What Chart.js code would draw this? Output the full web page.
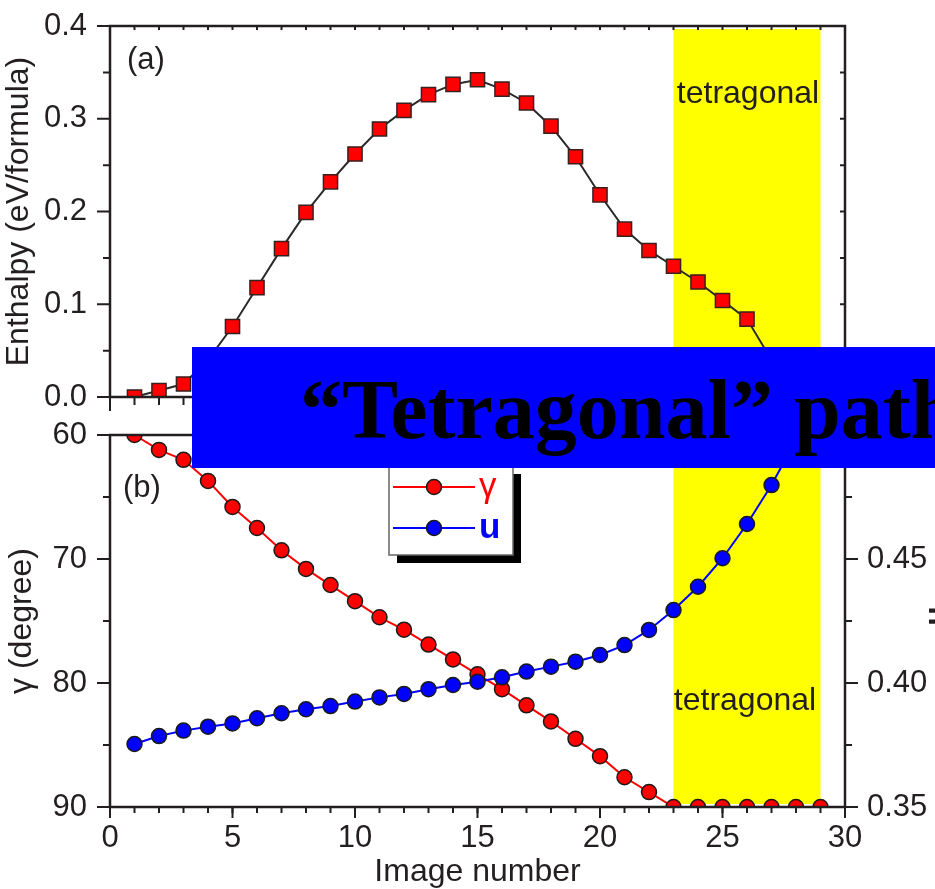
<!DOCTYPE html>
<html>
<head>
<meta charset="utf-8">
<script src="https://cdn.jsdelivr.net/npm/chart.js@4.4.1/dist/chart.umd.min.js"></script>
<style>
  body { margin: 0; background: #fff; overflow: hidden; }
  #wrap { position: relative; width: 935px; height: 889px; }
  canvas { position: absolute; left: 0; top: 0; }
  #banner { position: absolute; left: 192px; top: 347px; width: 743px; height: 121px; background: #0000ff; overflow: hidden; }
  #banner span { position: absolute; left: 108px; top: 21px; font: bold 84px/84px "Liberation Serif", "Times New Roman", serif; color: #000; white-space: nowrap; }
</style>
</head>
<body>
<div id="wrap">
  <canvas id="chartB" width="935" height="889"></canvas>
  <canvas id="chartA" width="935" height="889"></canvas>
  <div id="banner"><span>“Tetragonal” path</span></div>
</div>
<script>
"use strict";

// NEB images along the path
const imageNo = [1, 2, 3, 4, 5, 6, 7, 8, 9, 10, 11, 12, 13, 14, 15, 16, 17, 18, 19, 20, 21, 22, 23, 24, 25, 26, 27, 28, 29];
// (a) enthalpy, eV/formula
const enthalpy = [0.000, 0.007, 0.014, 0.040, 0.076, 0.118, 0.160, 0.199, 0.232, 0.262, 0.289, 0.309, 0.326, 0.337, 0.342,
  0.332, 0.317, 0.292, 0.259, 0.218, 0.181, 0.158, 0.141, 0.124, 0.104, 0.084, 0.040, 0.012, 0.000];
// (b) gamma angle, degree
const gamma = [60.0, 61.2, 62.0, 63.7, 65.8, 67.5, 69.3, 70.8, 72.1, 73.4, 74.7, 75.7, 76.9, 78.1, 79.3,
  80.5, 81.8, 83.1, 84.5, 85.9, 87.6, 88.8, 90, 90, 90, 90, 90, 90, 90];
// (b) internal parameter u
const uParam = [0.3754, 0.3786, 0.3808, 0.3824, 0.3837, 0.3858, 0.3878, 0.3894, 0.3907, 0.3925, 0.3942, 0.3956, 0.3975, 0.3992, 0.4005,
  0.4023, 0.4046, 0.4066, 0.4086, 0.4113, 0.4153, 0.4214, 0.4294, 0.4388, 0.4503, 0.4641, 0.4798, 0.498, 0.516];

// images that sit in the tetragonal region
const tetragonalBand = [23, 29];

const xMajor = [0, 5, 10, 15, 20, 25, 30];
const enthalpyMajor = [0, 0.1, 0.2, 0.3, 0.4];
const gammaMajor = [60, 70, 80, 90];
const uMajor = [0.35, 0.40, 0.45, 0.50];

const ink = '#231f20';
const sans = '"Liberation Sans", Arial, Helvetica, sans-serif';

Chart.defaults.font.family = sans;
Chart.defaults.color = ink;

const xInts = Array.from({length: 31}, (_, i) => i);
function halfSteps(major) {
  const out = [];
  for (let i = 0; i < major.length - 1; i++) out.push((major[i] + major[i + 1]) / 2);
  return out;
}
function points(ys) {
  return imageNo.map((n, i) => ({x: n, y: ys[i]}));
}

// tick marks drawn from the scale, dir = +1 (down/right) or -1 (up/left)
function tickMarks(ctx, scale, values, edge, len, dir) {
  ctx.beginPath();
  values.forEach(v => {
    const p = scale.getPixelForValue(v);
    if (scale.isHorizontal()) {
      ctx.moveTo(p, edge);
      ctx.lineTo(p, edge + dir * len);
    } else {
      ctx.moveTo(edge, p);
      ctx.lineTo(edge + dir * len, p);
    }
  });
  ctx.stroke();
}

function drawBand(chart, topGap, bottomGap) {
  const {ctx, chartArea: ca, scales: {x}} = chart;
  const x0 = x.getPixelForValue(tetragonalBand[0]);
  const x1 = x.getPixelForValue(tetragonalBand[1]);
  ctx.fillStyle = '#ffff00';
  ctx.fillRect(x0, ca.top + topGap, x1 - x0, ca.bottom - ca.top - topGap - bottomGap);
  return (x0 + x1) / 2;
}

function drawFrame(chart) {
  const {ctx, chartArea: ca} = chart;
  ctx.strokeStyle = ink;
  ctx.lineWidth = 2.5;
  ctx.strokeRect(ca.left, ca.top, ca.right - ca.left, ca.bottom - ca.top);
}

// keep the y axis width fixed and stop its label padding from pushing the plot area down
function fixedWidth(w) {
  return s => {
    s.width = w;
    s.paddingTop = 0;
    s.paddingBottom = 0;
  };
}

const panelA = {
  id: 'panelA',
  beforeDatasetsDraw(chart) {
    const {ctx, chartArea: ca} = chart;
    ctx.save();
    const mid = drawBand(chart, 3, 0);
    ctx.fillStyle = ink;
    ctx.font = '32px ' + sans;
    ctx.textAlign = 'center';
    ctx.fillText('tetragonal', mid + 1, ca.top + 77);
    ctx.restore();
  },
  afterDraw(chart) {
    const {ctx, chartArea: ca, scales: {x, y}} = chart;
    ctx.save();
    drawFrame(chart);
    ctx.lineWidth = 2;
    tickMarks(ctx, y, enthalpyMajor, ca.left, 13, -1);
    tickMarks(ctx, y, halfSteps(enthalpyMajor), ca.left, 7, -1);
    tickMarks(ctx, y, enthalpyMajor.concat(halfSteps(enthalpyMajor)), ca.right, 5, -1);
    tickMarks(ctx, x, xMajor, ca.bottom, 14, 1);
    tickMarks(ctx, x, xInts, ca.bottom, 8, 1);
    tickMarks(ctx, x, xInts, ca.top, 4, 1);
    ctx.fillStyle = ink;
    ctx.font = '31px ' + sans;
    ctx.fillText('(a)', ca.left + 17, ca.top + 43);
    ctx.restore();
  }
};

const panelB = {
  id: 'panelB',
  beforeDatasetsDraw(chart) {
    const {ctx, chartArea: ca} = chart;
    ctx.save();
    const mid = drawBand(chart, 0, 3);
    ctx.fillStyle = ink;
    ctx.font = '32px ' + sans;
    ctx.textAlign = 'center';
    ctx.fillText('tetragonal', mid - 2, ca.top + 275);
    ctx.restore();
  },
  afterDatasetsDraw(chart) {
    // boxed legend with drop shadow
    const {ctx} = chart;
    const box = {x: 389, y: 466, w: 124, h: 89, shadow: 8};
    const rows = [487, 528];
    const fonts = ['35px ' + sans, 'bold 35px ' + sans];
    const legendOrder = [1, 0];
    ctx.save();
    ctx.fillStyle = '#000';
    ctx.fillRect(box.x + box.shadow, box.y + box.shadow, box.w, box.h);
    ctx.fillStyle = '#fff';
    ctx.fillRect(box.x, box.y, box.w, box.h);
    ctx.strokeStyle = '#666';
    ctx.lineWidth = 1.5;
    ctx.strokeRect(box.x, box.y, box.w, box.h);
    legendOrder.forEach((di, r) => {
      const ds = chart.data.datasets[di];
      const yy = rows[r];
      ctx.strokeStyle = ds.borderColor;
      ctx.lineWidth = 2;
      ctx.beginPath();
      ctx.moveTo(box.x + 4, yy);
      ctx.lineTo(box.x + 86, yy);
      ctx.stroke();
      ctx.beginPath();
      ctx.arc(box.x + 45, yy, ds.pointRadius, 0, Math.PI * 2);
      ctx.fillStyle = ds.pointBackgroundColor;
      ctx.fill();
      ctx.strokeStyle = ds.pointBorderColor;
      ctx.lineWidth = ds.pointBorderWidth;
      ctx.stroke();
      ctx.fillStyle = ds.borderColor;
      ctx.font = fonts[r];
      ctx.textBaseline = 'alphabetic';
      ctx.fillText(ds.label, box.x + 90, yy + 10);
    });
    ctx.restore();
  },
  afterDraw(chart) {
    const {ctx, chartArea: ca, scales: {x, y, u}} = chart;
    ctx.save();
    drawFrame(chart);
    ctx.lineWidth = 2;
    tickMarks(ctx, y, gammaMajor, ca.left, 13, -1);
    tickMarks(ctx, y, halfSteps(gammaMajor), ca.left, 7, -1);
    tickMarks(ctx, u, uMajor, ca.right, 13, 1);
    tickMarks(ctx, u, halfSteps(uMajor), ca.right, 7, 1);
    tickMarks(ctx, x, xMajor, ca.bottom, 11, 1);
    tickMarks(ctx, x, xInts, ca.bottom, 6, 1);
    ctx.fillStyle = ink;
    ctx.font = '31px ' + sans;
    ctx.fillText('(b)', ca.left + 13, ca.top + 62);
    // right axis title, rotated like the left one
    ctx.translate(937, (ca.top + ca.bottom) / 2 - 5);
    ctx.rotate(-Math.PI / 2);
    ctx.font = 'bold 32px ' + sans;
    ctx.textAlign = 'center';
    ctx.textBaseline = 'middle';
    ctx.fillText('u', 0, 0);
    ctx.restore();
  }
};

const tickFont = {size: 31};
const titleFont = {size: 32, lineHeight: 1.2};

// panel (a): enthalpy profile
new Chart(document.querySelector('#chartA').getContext('2d'), {
  type: 'line',
  data: {
    datasets: [{
      label: 'Enthalpy',
      data: points(enthalpy),
      borderColor: '#2a2a2a',
      borderWidth: 2,
      pointStyle: 'rect',
      pointRadius: 10,
      pointBackgroundColor: '#ff0000',
      pointBorderColor: '#3a1f1f',
      pointBorderWidth: 1.5,
      tension: 0,
      clip: 1
    }]
  },
  options: {
    responsive: false,
    animation: false,
    events: [],
    layout: {padding: {top: 26, right: 90, left: 0, bottom: 0}},
    plugins: {legend: {display: false}, tooltip: {enabled: false}},
    scales: {
      x: {
        type: 'linear', min: 0, max: 30,
        grid: {display: false}, border: {display: false},
        ticks: {display: false},
        afterFit: s => { s.height = 492; }
      },
      y: {
        min: 0, max: 0.4,
        grid: {display: false, drawTicks: false}, border: {display: false},
        ticks: {stepSize: 0.1, padding: 23, font: tickFont, color: ink, callback: v => v.toFixed(1)},
        title: {display: true, text: 'Enthalpy (eV/formula)', font: titleFont, color: ink, padding: {top: 0, bottom: 0}},
        afterFit: fixedWidth(110)
      }
    }
  },
  plugins: [panelA]
});

// panel (b): gamma and u along the path
new Chart(document.querySelector('#chartB').getContext('2d'), {
  type: 'line',
  data: {
    datasets: [{
      label: 'u',
      data: points(uParam),
      yAxisID: 'u',
      borderColor: '#0000ff',
      borderWidth: 2,
      pointRadius: 7.5,
      pointBackgroundColor: '#0000ff',
      pointBorderColor: '#1a1a1a',
      pointBorderWidth: 1.5,
      tension: 0,
      clip: 1
    }, {
      label: 'γ',
      data: points(gamma),
      yAxisID: 'y',
      borderColor: '#ff0000',
      borderWidth: 2,
      pointRadius: 7.5,
      pointBackgroundColor: '#ff0000',
      pointBorderColor: '#1a1a1a',
      pointBorderWidth: 1.5,
      tension: 0,
      clip: 1
    }]
  },
  options: {
    responsive: false,
    animation: false,
    events: [],
    layout: {padding: {top: 435, right: 0, left: 0, bottom: 0}},
    plugins: {legend: {display: false}, tooltip: {enabled: false}},
    scales: {
      x: {
        type: 'linear', min: 0, max: 30,
        grid: {display: false, drawTicks: false}, border: {display: false},
        ticks: {stepSize: 5, padding: 13, font: tickFont, color: ink, maxRotation: 0},
        title: {display: true, text: 'Image number', font: {size: 32, lineHeight: 1}, color: ink, padding: {top: 0, bottom: 1}},
        afterFit: s => { s.height = 82; }
      },
      y: {
        position: 'left', min: 60, max: 90, reverse: true,
        grid: {display: false, drawTicks: false}, border: {display: false},
        ticks: {stepSize: 10, padding: 23, font: tickFont, color: ink},
        title: {display: true, text: 'γ (degree)', font: titleFont, color: ink, padding: {top: 3, bottom: 0}},
        afterFit: fixedWidth(110)
      },
      u: {
        position: 'right', min: 0.35, max: 0.50,
        grid: {display: false, drawTicks: false}, border: {display: false},
        ticks: {stepSize: 0.05, padding: 22, font: tickFont, color: ink, callback: v => v.toFixed(2)},
        afterFit: fixedWidth(90)
      }
    }
  },
  plugins: [panelB]
});
</script>
</body>
</html>
